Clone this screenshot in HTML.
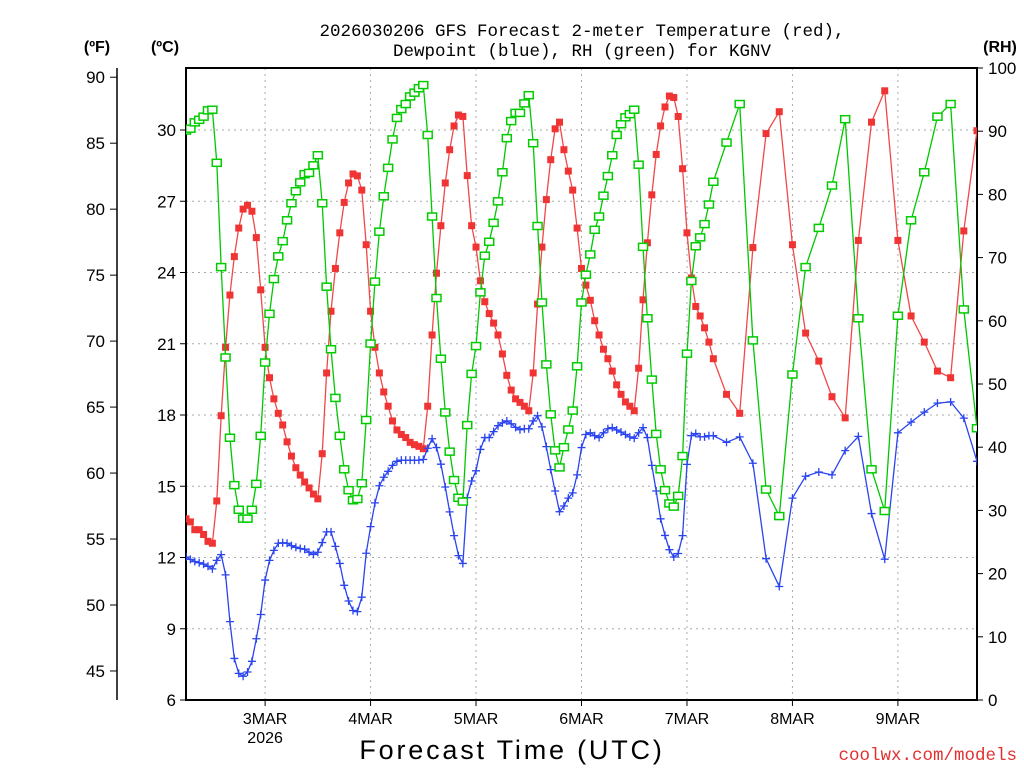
<!DOCTYPE html>
<html><head><meta charset="utf-8"><title>GFS Forecast KGNV</title>
<style>
html,body{margin:0;padding:0;background:#fff;}
svg{display:block;font-family:"Liberation Sans","DejaVu Sans",sans-serif;}
</style></head>
<body>
<svg id="chart" width="1024" height="768" viewBox="0 0 1024 768" xmlns="http://www.w3.org/2000/svg">
  <rect width="1024" height="768" fill="#fff"/>
  <g id="grid"></g>
  <g id="axes"></g>
  <g id="series"></g>
  <text x="582" y="36" text-anchor="middle" font-size="17.5" font-family="Liberation Mono, monospace">2026030206 GFS Forecast 2-meter Temperature (red),</text>
  <text x="582" y="56" text-anchor="middle" font-size="17.5" font-family="Liberation Mono, monospace">Dewpoint (blue), RH (green) for KGNV</text>
  <text x="97" y="52" text-anchor="middle" font-size="16" font-weight="bold">(ºF)</text>
  <text x="165" y="52" text-anchor="middle" font-size="16" font-weight="bold">(ºC)</text>
  <text x="1000" y="52" text-anchor="middle" font-size="16" font-weight="bold">(RH)</text>
  <text x="512" y="759" text-anchor="middle" font-size="27" letter-spacing="2.8">Forecast Time (UTC)</text>
  <text x="1017" y="760" text-anchor="end" font-size="17.5" fill="#e03030" font-family="Liberation Mono, monospace">coolwx.com/models</text>
</svg>
<script>
var hours = [];
for (var hh = 0; hh <= 120; hh++) hours.push(hh);
for (var hh2 = 123; hh2 <= 180; hh2 += 3) hours.push(hh2);

var tempC = [13.63,13.5,13.17,13.17,12.97,12.68,12.6,14.38,17.97,20.85,23.05,24.67,25.87,26.67,26.83,26.58,25.47,23.27,20.85,19.57,18.68,18.07,17.58,16.87,16.27,15.78,15.47,15.18,14.93,14.67,14.47,16.37,19.77,22.37,24.17,25.67,26.95,27.77,28.15,28.07,27.47,25.17,22.37,20.85,19.77,
18.97,18.37,17.75,17.37,17.18,17.05,16.85,16.75,16.68,16.58,18.37,21.37,23.97,25.97,27.77,29.17,30.17,30.63,30.57,28.08,25.97,25.07,23.65,22.77,22.27,21.87,21.37,20.57,19.67,19.05,18.68,18.53,18.37,18.18,19.77,22.67,25.07,27.07,28.75,30.05,30.33,29.17,28.27,
27.47,25.87,24.17,23.47,22.83,21.97,21.37,20.77,20.37,19.85,19.27,18.87,18.55,18.37,18.18,19.97,22.85,25.25,27.27,28.97,30.17,30.97,31.43,31.37,30.57,28.37,25.67,23.77,22.57,22.17,21.67,21.07,20.37,
18.87,18.07,25.05,29.85,30.77,25.17,21.45,20.27,18.77,17.88,25.35,30.33,31.65,25.35,22.17,21.07,19.85,19.57,25.75,29.97];

var dewC = [12.02,11.92,11.83,11.78,11.72,11.63,11.52,11.88,12.12,11.27,9.3,7.75,7.12,7.0,7.18,7.63,8.58,9.6,11.05,11.88,12.3,12.6,12.62,12.6,12.5,12.43,12.38,12.35,12.22,12.13,12.22,12.63,13.08,13.08,12.47,11.75,10.83,10.17,9.77,9.72,10.33,12.18,13.3,14.3,15.02,
15.38,15.63,15.88,16.05,16.1,16.1,16.1,16.1,16.1,16.13,16.6,17.0,16.63,15.93,14.97,13.92,12.92,12.08,11.75,14.52,15.22,15.65,16.55,17.05,17.05,17.3,17.55,17.67,17.75,17.63,17.48,17.38,17.42,17.42,17.75,17.97,17.5,16.67,15.7,14.8,13.93,14.17,14.5,
14.72,15.48,16.63,17.18,17.25,17.13,17.05,17.25,17.42,17.47,17.37,17.28,17.18,17.08,17.02,17.25,17.47,17.05,15.88,14.8,13.63,12.93,12.33,12.02,12.17,12.92,15.92,17.13,17.22,17.08,17.08,17.13,17.13,
16.85,17.08,15.97,11.95,10.78,14.5,15.42,15.6,15.48,16.5,17.1,13.85,11.93,17.25,17.7,18.12,18.5,18.55,17.87,16.05];

var rhPct = [90.1,90.4,91.4,91.8,92.3,93.3,93.4,85.0,68.5,54.2,41.5,34.0,30.1,28.7,28.7,30.1,34.2,41.8,53.4,61.1,66.6,70.2,72.6,75.9,78.6,80.5,81.9,83.2,83.4,84.6,86.2,78.6,65.4,55.5,47.8,41.8,36.5,33.2,31.6,31.8,34.3,44.3,56.4,66.2,74.1,
79.7,84.2,88.7,92.1,93.5,94.3,95.5,96.1,96.8,97.3,89.4,76.5,63.6,54.0,45.5,39.3,34.8,32.0,31.4,43.5,51.6,56.0,64.5,70.3,72.5,75.5,78.9,83.5,88.9,91.6,92.9,92.9,94.4,95.7,88.1,75.0,62.9,53.1,45.2,39.5,36.8,40.0,42.8,
45.8,52.8,62.9,67.3,70.5,74.4,76.5,79.8,82.9,86.2,89.4,91.1,92.2,92.7,93.4,84.7,71.7,60.4,50.7,42.1,36.5,33.2,31.1,30.6,32.3,38.6,54.8,66.3,71.8,73.2,75.3,78.4,82.0,
88.2,94.3,56.9,33.3,29.1,51.5,68.5,74.7,81.4,91.9,60.4,36.5,29.9,60.8,75.9,83.5,92.3,94.3,61.8,43.0];

var celsiusTicks = [6,9,12,15,18,21,24,27,30];
var fahrenheitTicks = [45,50,55,60,65,70,75,80,85,90];
var rhTicks = [0,10,20,30,40,50,60,70,80,90,100];
var dayLabels = ["3MAR","4MAR","5MAR","6MAR","7MAR","8MAR","9MAR"];
var dayHours = [18,42,66,90,114,138,162];

var X0 = 186, X1 = 977, Y0 = 68, Y1 = 700;
var H_MAX = 180, C_MIN = 6;
function xH(h){ return X0 + (X1 - X0) * h / H_MAX; }
function yC(c){ return Y1 - (c - C_MIN) * 23.75; }
function yF(f){ return yC((f - 32) / 1.8); }
function yRH(r){ return Y1 - (Y1 - Y0) * r / 100; }

var NS = "http://www.w3.org/2000/svg";
function mk(tag, parent, attrs){
  var e = document.createElementNS(NS, tag);
  for (var k in attrs) e.setAttribute(k, attrs[k]);
  parent.appendChild(e); return e;
}
var grid = document.getElementById('grid');
var axes = document.getElementById('axes');
var series = document.getElementById('series');

celsiusTicks.forEach(function(c){
  var y = yC(c);
  if (c > C_MIN) {
    var g = mk('line', grid, {x1:X0, x2:X1, y1:y, y2:y, stroke:'#aaa', 'stroke-width':1, 'stroke-dasharray':'2,4'});
    
    
  }
  var t = mk('line', axes, {x1:X0-6, x2:X0, y1:y, y2:y, stroke:'#000', 'stroke-width':1});
  
  
  var lb = mk('text', axes, {x:X0-10, y:y+6, 'text-anchor':'end', 'font-size':17});
  lb.textContent = c;
  
  
});
dayHours.forEach(function(h, i){
  var x = xH(h);
  var g = mk('line', grid, {x1:x, x2:x, y1:Y0, y2:Y1, stroke:'#aaa', 'stroke-width':1, 'stroke-dasharray':'2,4'});
  
  
  var t = mk('line', axes, {x1:x, x2:x, y1:Y1, y2:Y1+6, stroke:'#000', 'stroke-width':1});
  
  
  var lb = mk('text', axes, {x:x, y:Y1+24, 'text-anchor':'middle', 'font-size':16});
  lb.textContent = dayLabels[i];
  
  
});
var yr = mk('text', axes, {x:xH(dayHours[0]), y:Y1+43, 'text-anchor':'middle', 'font-size':16});
yr.textContent = '2026';



var fAxis = mk('line', axes, {x1:117, x2:117, y1:Y0, y2:Y1, stroke:'#000', 'stroke-width':1.5});


fahrenheitTicks.forEach(function(f){
  var y = yF(f);
  var t = mk('line', axes, {x1:110, x2:117, y1:y, y2:y, stroke:'#000', 'stroke-width':1});
  
  
  var lb = mk('text', axes, {x:105, y:y+6, 'text-anchor':'end', 'font-size':17});
  lb.textContent = f;
  
  
});
rhTicks.forEach(function(r){
  var y = yRH(r);
  var t = mk('line', axes, {x1:X1, x2:X1+6, y1:y, y2:y, stroke:'#000', 'stroke-width':1});
  
  
  var lb = mk('text', axes, {x:X1+11, y:y+6, 'text-anchor':'start', 'font-size':17});
  lb.textContent = r;
  
  
});
var frame = mk('rect', axes, {x:X0, y:Y0, width:X1-X0, height:Y1-Y0, fill:'none', stroke:'#000', 'stroke-width':2});



var defs = mk('defs', series, {});
var cp = mk('clipPath', defs, {id:'plotclip'});
mk('rect', cp, {x:X0, y:Y0, width:X1-X0, height:Y1-Y0});
var sg = mk('g', series, {'clip-path':'url(#plotclip)'});



function pts(vals, yf){
  var n = Math.min(vals.length, hours.length), s = [];
  for (var i = 0; i < n; i++) s.push(xH(hours[i]).toFixed(1) + ',' + yf(vals[i]).toFixed(1));
  return s.join(' ');
}
var tl = mk('polyline', sg, {points:pts(tempC, yC), fill:'none', stroke:'#f04848', 'stroke-width':1.3});


for (var i = 0; i < Math.min(tempC.length, hours.length); i++){
  var m = mk('rect', sg, {x:xH(hours[i])-3.5, y:yC(tempC[i])-3.5, width:7, height:7, fill:'#f03434'});
  
  
}
var dl = mk('polyline', sg, {points:pts(dewC, yC), fill:'none', stroke:'#2a44f0', 'stroke-width':1.3});


for (var j = 0; j < Math.min(dewC.length, hours.length); j++){
  var dx = xH(hours[j]), dy = yC(dewC[j]);
  var p = mk('path', sg, {d:'M'+(dx-4)+','+dy+'H'+(dx+4)+'M'+dx+','+(dy-4)+'V'+(dy+4), stroke:'#2a44f0', 'stroke-width':1.3, fill:'none'});
  
  
}
var rl = mk('polyline', sg, {points:pts(rhPct, yRH), fill:'none', stroke:'#00c800', 'stroke-width':1.3});


for (var k = 0; k < Math.min(rhPct.length, hours.length); k++){
  var q = mk('rect', sg, {x:xH(hours[k])-4.5, y:yRH(rhPct[k])-3.5, width:9, height:7, fill:'#fff', stroke:'#00cc00', 'stroke-width':1.5});
  
  
}
</script>
</body></html>
